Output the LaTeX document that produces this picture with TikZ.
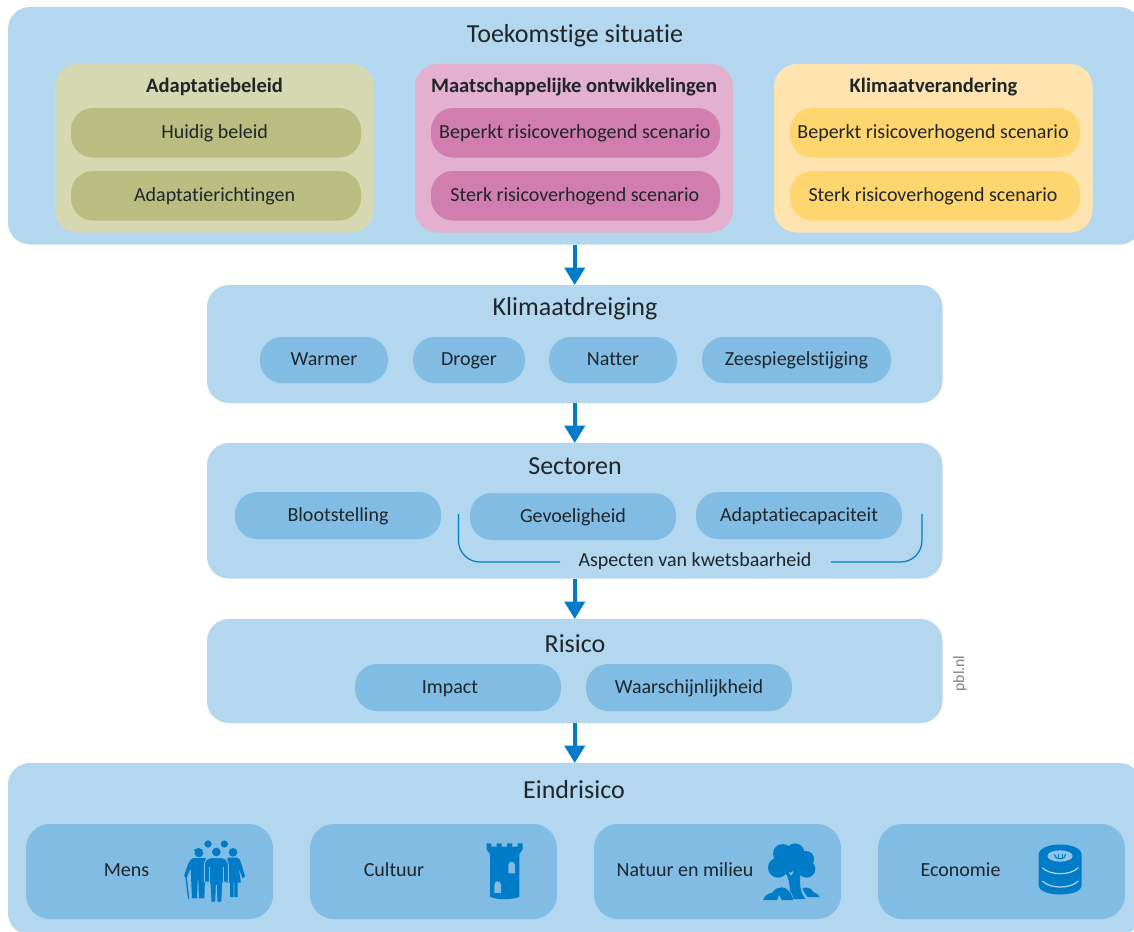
\documentclass[tikz,border=0pt]{standalone}
\usepackage{fontspec}
\setmainfont[RawFeature={-liga;-dlig;-clig}]{Carlito}
\usetikzlibrary{arrows.meta,calc}
\definecolor{outerblue}{HTML}{B2D7EE}
\definecolor{midblue}{HTML}{80BCE3}
\definecolor{darkblue}{HTML}{007BC7}
\definecolor{olivebg}{HTML}{D5D8B1}
\definecolor{olivepill}{HTML}{B9BD80}
\definecolor{pinkbg}{HTML}{E3B0CF}
\definecolor{pinkpill}{HTML}{D17DAF}
\definecolor{yellowbg}{HTML}{FFE4B0}
\definecolor{yellowpill}{HTML}{FFD56F}
\definecolor{ink}{HTML}{1F2528}
\newcommand{\rbox}[7][]{%
  \pgfmathsetmacro{\bw}{(#5-#3)*0.75}%
  \pgfmathsetmacro{\bh}{(#6-#4)*0.75}%
  \node[#1,minimum width=\bw pt,minimum height=\bh pt] (#2) at ({(#3+#5)/2},{(#4+#6)/2}) {#7};}
\tikzset{
  base/.style={inner sep=0pt,outer sep=0pt,text=ink,align=center},
  outerbox/.style={base,fill=outerblue,rounded corners=16.5pt},
  inbox/.style={base,rounded corners=17pt},
  pill/.style={base,fill=midblue,rounded corners=16.5pt,text height=12pt,text depth=3.5pt,font=\fontsize{15}{18}\selectfont},
  endbox/.style={base,fill=midblue,rounded corners=18pt},
  title/.style={base,text height=16pt,text depth=3.5pt,font=\fontsize{19.5}{22}\selectfont},
  subtitle/.style={base,text height=12pt,text depth=3.5pt,font=\bfseries\fontsize{15.4}{18}\selectfont},
  label/.style={base,text height=12pt,text depth=3.5pt,font=\fontsize{15}{18}\selectfont},
  flow/.style={draw=darkblue,line width=2.7pt,-{Triangle[width=15pt,length=13pt]}},
  bracket/.style={draw=darkblue,line width=0.9pt,rounded corners=16pt},
  iconfill/.style={fill=darkblue,draw=none},
  icongap/.style={fill=midblue,draw=none},
  iconline/.style={draw=midblue,line width=0.5pt,fill=none},
}
\begin{document}
\begin{tikzpicture}[x=0.75pt,y=-0.75pt]
\clip (0,0) rectangle (1134,931);
\fill[white] (0,0) rectangle (1134,931);
% outer boxes
\rbox[outerbox]{top}{8}{7}{1141.5}{244.5}{}
\rbox[outerbox]{klim}{207}{285}{942.5}{403}{}
\rbox[outerbox]{sect}{207}{443}{942.5}{578.5}{}
\rbox[outerbox]{risk}{207}{619}{942.5}{723}{}
\rbox[outerbox]{eind}{8}{763}{1141.5}{935}{}
% titles
\node[title] (ttop) at (575,34) {Toekomstige situatie};
\node[title] (tklim) at (575,307) {Klimaatdreiging};
\node[title] (tsect) at (575,466) {Sectoren};
\node[title] (trisk) at (575,644) {Risico};
\node[title] (teind) at (574,790) {Eindrisico};
% top inner
\rbox[inbox,fill=olivebg]{adapt}{55}{64}{374}{232.5}{}
\rbox[inbox,fill=pinkbg]{maat}{415}{64}{733}{232.5}{}
\rbox[inbox,fill=yellowbg]{klv}{774}{64}{1092.5}{232.5}{}
\node[subtitle] (tadapt) at (214.5,87) {Adaptatiebeleid};
\node[subtitle] (tmaat) at (574,87) {Maatschappelijke ontwikkelingen};
\node[subtitle] (tklv) at (933.5,87) {Klimaatverandering};
\rbox[pill,fill=olivepill]{a1}{71}{108}{361}{157.5}{Huidig beleid\hspace{2pt}}
\rbox[pill,fill=olivepill]{a2}{71}{171}{361}{220.5}{Adaptatierichtingen\hspace{2pt}}
\rbox[pill,fill=pinkpill]{m1}{431}{108}{720}{157.5}{Beperkt risicoverhogend scenario\hspace{1pt}}
\rbox[pill,fill=pinkpill]{m2}{431}{171}{720}{220.5}{Sterk risicoverhogend scenario\hspace{1pt}}
\rbox[pill,fill=yellowpill]{k1}{790}{108}{1080}{157.5}{Beperkt risicoverhogend scenario\hspace{3pt}}
\rbox[pill,fill=yellowpill]{k2}{790}{171}{1080}{220.5}{Sterk risicoverhogend scenario\hspace{3pt}}
% klimaatdreiging
\rbox[pill]{warm}{260}{337}{388}{383}{Warmer}
\rbox[pill]{drog}{413}{337}{525}{383}{Droger}
\rbox[pill]{nat}{549}{337}{677}{383}{Natter}
\rbox[pill]{zee}{702}{337}{891}{383}{Zeespiegelstijging}
% sectoren
\rbox[pill]{bloot}{235}{492}{441}{539}{Blootstelling}
\rbox[pill]{gev}{470}{493}{676}{540}{Gevoeligheid}
\rbox[pill]{cap}{696}{492}{902}{539}{Adaptatiecapaciteit}
\node[label] (asp) at (695,561) {Aspecten van kwetsbaarheid};
\coordinate (bl1) at (458.5,514);
\coordinate (bl2) at (458.5,562);
\coordinate (bl3) at (560,562);
\coordinate (br1) at (922,514);
\coordinate (br2) at (922,562);
\coordinate (br3) at (831,562);
\draw[bracket] (bl1) -- (bl2) -- (bl3);
\draw[bracket] (br1) -- (br2) -- (br3);
% risico
\rbox[pill]{imp}{355}{664}{561}{711}{Impact\hspace{12pt}}
\rbox[pill]{kans}{586}{664}{792}{711}{Waarschijnlijkheid}
\node[base,rotate=90,text=black!50,font=\fontsize{11.8}{13}\selectfont] (pbl) at (960,673.5) {pbl.nl};
% eindrisico
\rbox[endbox]{b1}{26}{824}{273}{919}{}
\rbox[endbox]{b2}{310}{824}{557}{919}{}
\rbox[endbox]{b3}{594}{824}{841}{919}{}
\rbox[endbox]{b4}{878}{824}{1125}{919}{}
\node[label] (l1) at (126.5,871) {Mens};
\node[label] (l2) at (394,871) {Cultuur};
\node[label] (l3) at (685,871) {Natuur en milieu};
\node[label] (l4) at (960.5,871) {Economie};
% arrows
\draw[flow] (top) -- (klim);
\draw[flow] (klim) -- (sect);
\draw[flow] (sect) -- (risk);
\draw[flow] (risk) -- (eind);
% people icon
\begin{scope}[shift={(175,830)},x=0.25pt,y=-0.25pt]
  \fill[iconfill] (99,42) circle (11);
  \fill[iconfill] (148,42) circle (11);
  \fill[iconfill] (72,69) circle (13);
  \fill[iconfill] (55,60) -- (70,54) -- (84,60) -- (70,68) -- cycle;
  \fill[iconfill] (174,67) circle (13);
  \fill[iconfill] (55,84) .. controls (42,88) and (38,105) .. (27,138) -- (35,143) -- (47,115) -- (51,205) -- (66,205) -- (68,150) -- (70,150) -- (72,205) -- (88,205) -- (92,84) -- cycle;
  \draw[darkblue,line width=1pt] (33,140) -- (41,206);
  \fill[iconfill] (158,83) -- (188,83) .. controls (197,86) and (201,110) .. (210,139) -- (203,145) -- (191,115) -- (198,158) -- (188,158) -- (188,201) -- (178,201) -- (178,158) -- (176,158) -- (176,201) -- (165,201) -- (165,158) -- (150,158) -- cycle;
  \fill[iconfill,draw=midblue,line width=0.7pt] (88,156) -- (88,104) .. controls (88,92) and (98,83) .. (110,83) -- (138,83) .. controls (150,83) and (160,92) .. (160,104) -- (160,156) -- (146,156) -- (143,160) -- (140,216) -- (126,216) -- (124,165) -- (122,216) -- (108,216) -- (105,160) -- (102,156) -- cycle;
  \fill[iconfill] (124,66) circle (13);
  \draw[iconline] (102,112) -- (102,156);
  \draw[iconline] (146,112) -- (146,156);
\end{scope}
% tower icon
\begin{scope}[shift={(470,830)},x=0.25pt,y=-0.25pt]
  \fill[iconfill] (50,40) -- (64,40) -- (64,50) -- (80,50) -- (80,40) -- (95,40) -- (95,50) -- (111,50) -- (111,40) -- (126,40) -- (126,50) -- (143,50) -- (143,40) -- (158,40) -- (158,58) -- (148,72) -- (148,200) .. controls (130,210) and (78,210) .. (60,200) -- (60,72) -- (50,58) -- cycle;
  \fill[icongap] (115,130) -- (115,105) .. controls (115,92) and (135,92) .. (135,105) -- (135,130) -- cycle;
  \fill[icongap] (73,189) -- (73,165) .. controls (73,150) and (93,150) .. (93,165) -- (93,189) -- cycle;
\end{scope}
% tree icon
\begin{scope}[shift={(750,835)},x=0.25pt,y=-0.25pt]
  \fill[iconfill] (98,56) circle (29);
  \fill[iconfill] (135,53) circle (28);
  \fill[iconfill] (168,72) circle (24);
  \fill[iconfill] (84,98) circle (30);
  \fill[iconfill] (170,102) circle (26);
  \fill[iconfill] (125,85) circle (38);
  \fill[iconfill] (108,110) -- (152,110) .. controls (148,150) and (150,170) .. (166,192) -- (112,192) .. controls (126,165) and (118,145) .. (108,110) -- cycle;
  \fill[iconfill,draw=midblue,line width=0.4pt] (38,196) .. controls (42,180) and (55,175) .. (66,172) .. controls (72,160) and (95,150) .. (110,160) .. controls (122,170) and (128,180) .. (131,196) -- (95,196) -- (87,182) -- (82,196) -- cycle;
  \fill[iconfill,draw=midblue,line width=0.4pt] (155,160) .. controls (170,152) and (185,158) .. (190,170) .. controls (200,172) and (208,180) .. (211,187) -- (172,187) .. controls (165,178) and (160,170) .. (155,160) -- cycle;
  \fill[icongap] (115,110) -- (122,113) -- (131,107) -- (127,118) -- (123,122) -- cycle;
\end{scope}
% coins icon
\begin{scope}[shift={(1025,835)},x=0.25pt,y=-0.25pt]
  \fill[iconfill] (41,60) .. controls (41,18) and (170,18) .. (170,60) -- (170,150) .. controls (170,188) and (41,188) .. (41,150) -- cycle;
  \draw[draw=outerblue,line width=0.9pt] (52,98) .. controls (75,122) and (136,122) .. (160,98);
  \draw[draw=outerblue,line width=0.9pt] (52,138) .. controls (75,162) and (136,162) .. (160,138);
  \fill[midblue!70!outerblue] (105,63) ellipse (38 and 17);
  \draw[darkblue,line width=0.9pt] (88,58) .. controls (88,76) and (122,76) .. (122,58);
  \draw[darkblue,line width=0.7pt] (99,56) -- (99,70) (111,56) -- (111,70);
\end{scope}
\end{tikzpicture}
\end{document}
